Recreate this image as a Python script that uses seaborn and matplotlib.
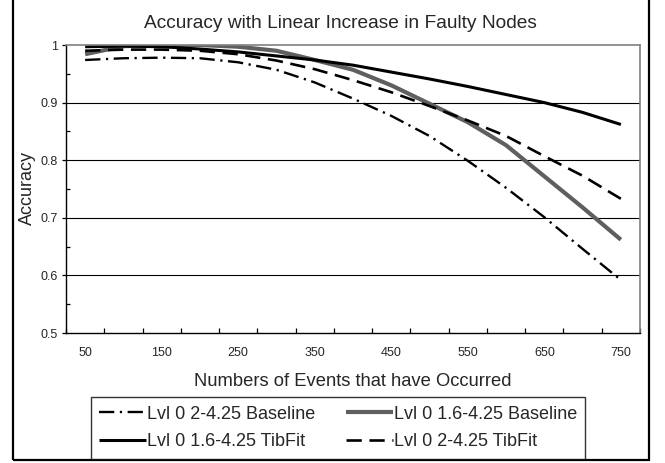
import numpy as np
import pandas as pd
import matplotlib
matplotlib.use("Agg")
import matplotlib.pyplot as plt
import seaborn as sns
from matplotlib.patches import Rectangle
from matplotlib.ticker import MultipleLocator, FixedLocator, NullFormatter, FixedFormatter

events = [50, 100, 150, 200, 250, 300, 350, 400, 450, 500, 550, 600, 650, 700, 750]
baseline_2_425 = [0.974, 0.977, 0.978, 0.977, 0.970, 0.957, 0.935, 0.907, 0.877, 0.842, 0.799, 0.752, 0.701, 0.646, 0.592]
baseline_16_425 = [0.984, 0.998, 1.000, 1.000, 0.997, 0.990, 0.974, 0.957, 0.930, 0.898, 0.866, 0.826, 0.772, 0.718, 0.662]
tibfit_16_425 = [0.997, 0.998, 0.997, 0.993, 0.988, 0.981, 0.974, 0.965, 0.953, 0.941, 0.928, 0.914, 0.900, 0.883, 0.862]
tibfit_2_425 = [0.990, 0.992, 0.992, 0.990, 0.984, 0.973, 0.958, 0.939, 0.918, 0.894, 0.869, 0.842, 0.807, 0.773, 0.733]

labels = ["Lvl 0 2-4.25 Baseline", "Lvl 0 1.6-4.25 Baseline",
          "Lvl 0 1.6-4.25 TibFit", "Lvl 0 2-4.25 TibFit"]
title = "Accuracy with Linear Increase in Faulty Nodes"
xlabel = "Numbers of Events that have Occurred"
ylabel = "Accuracy"
xtick_labels = ["50", "150", "250", "350", "450", "550", "650", "750"]

sns.set_theme(style="white")
plt.rcParams["font.family"] = ["Liberation Sans", "DejaVu Sans"]
plt.rcParams["lines.scale_dashes"] = False

W, H = 665, 463
fig = plt.figure(figsize=(W / 100, H / 100), dpi=100)
ax = fig.add_axes([66 / W, 1 - 333 / H, (640 - 66) / W, (333 - 45) / H])

series = [
    (labels[0], baseline_2_425, dict(color="black", lw=1.7, dashes=(11, 4, 1.6, 4))),
    (labels[1], baseline_16_425, dict(color="#5f5f5f", lw=3.0, dashes=None)),
    (labels[2], tibfit_16_425, dict(color="black", lw=2.2, dashes=None)),
    (labels[3], tibfit_2_425, dict(color="black", lw=1.9, dashes=(11, 5.5))),
]
handles = {}
for name, vals, st in series:
    df = pd.DataFrame({"events": events, "acc": vals})
    n_before = len(ax.lines)
    sns.lineplot(data=df, x="events", y="acc", ax=ax, color=st["color"], lw=st["lw"],
                 label=name, legend=False)
    line = ax.lines[n_before]
    if st["dashes"] is not None:
        line.set_dashes(st["dashes"])
    line.set_solid_capstyle("butt")
    line.set_dash_capstyle("butt")
    handles[name] = line

ax.set_xlim(25, 775)
ax.set_ylim(0.5, 1.0)

# y ticks
ax.yaxis.set_major_locator(MultipleLocator(0.1))
ax.yaxis.set_minor_locator(MultipleLocator(0.05))
ax.yaxis.set_major_formatter(matplotlib.ticker.FuncFormatter(lambda v, p: "1" if abs(v - 1) < 1e-9 else f"{v:.1f}"))
ax.tick_params(axis="y", which="major", direction="out", length=3, width=0.9, color="black",
               labelsize=9, pad=3, left=True)
ax.tick_params(axis="y", which="minor", direction="in", length=3, width=0.9, color="black", left=True)

# x ticks: marks every 50 between categories, labels every 100
ax.xaxis.set_major_locator(FixedLocator(list(range(25, 776, 50))))
ax.xaxis.set_major_formatter(NullFormatter())
ax.xaxis.set_minor_locator(FixedLocator(events[::2]))
ax.xaxis.set_minor_formatter(FixedFormatter(xtick_labels))
ax.tick_params(axis="x", which="major", direction="in", length=3.5, width=0.9, color="black", bottom=True)
ax.tick_params(axis="x", which="minor", length=0, labelsize=9, pad=10, bottom=True)

ax.grid(False)
for yv in [0.6, 0.7, 0.8, 0.9]:
    ax.axhline(yv, color="black", lw=0.8, zorder=0.5)

for s in ["left", "bottom"]:
    ax.spines[s].set_color("black")
    ax.spines[s].set_linewidth(1.0)
for s in ["top", "right"]:
    ax.spines[s].set_color("#808080")
    ax.spines[s].set_linewidth(1.2)

ax.set_xlabel("")
ax.set_ylabel("")
fig.text(27 / W, 1 - 188 / H, ylabel, rotation=90, ha="center", va="center", fontsize=13)
fig.text(353 / W, 1 - 381 / H, xlabel, ha="center", va="center", fontsize=13.2)
fig.text(340 / W, 1 - 23 / H, title, ha="center", va="center", fontsize=13.8)

order = [labels[0], labels[2], labels[1], labels[3]]
leg = fig.legend([handles[k] for k in order], order, ncol=2,
                 loc="center", bbox_to_anchor=((91 + 585) / 2 / W, 1 - 428 / H),
                 fontsize=13, frameon=True, fancybox=False, shadow=False,
                 handlelength=2.6, handletextpad=0.05, columnspacing=1.7,
                 labelspacing=0.6, borderpad=0.45, borderaxespad=0)
leg.get_frame().set_edgecolor("black")
leg.get_frame().set_linewidth(1.0)

fig.patches.append(Rectangle((13 / W, 3 / H), (649 - 13) / W, 1.0, transform=fig.transFigure,
                             fill=False, edgecolor="black", lw=1.6, clip_on=False))

fig.savefig("out.png", dpi=100, facecolor="white")
